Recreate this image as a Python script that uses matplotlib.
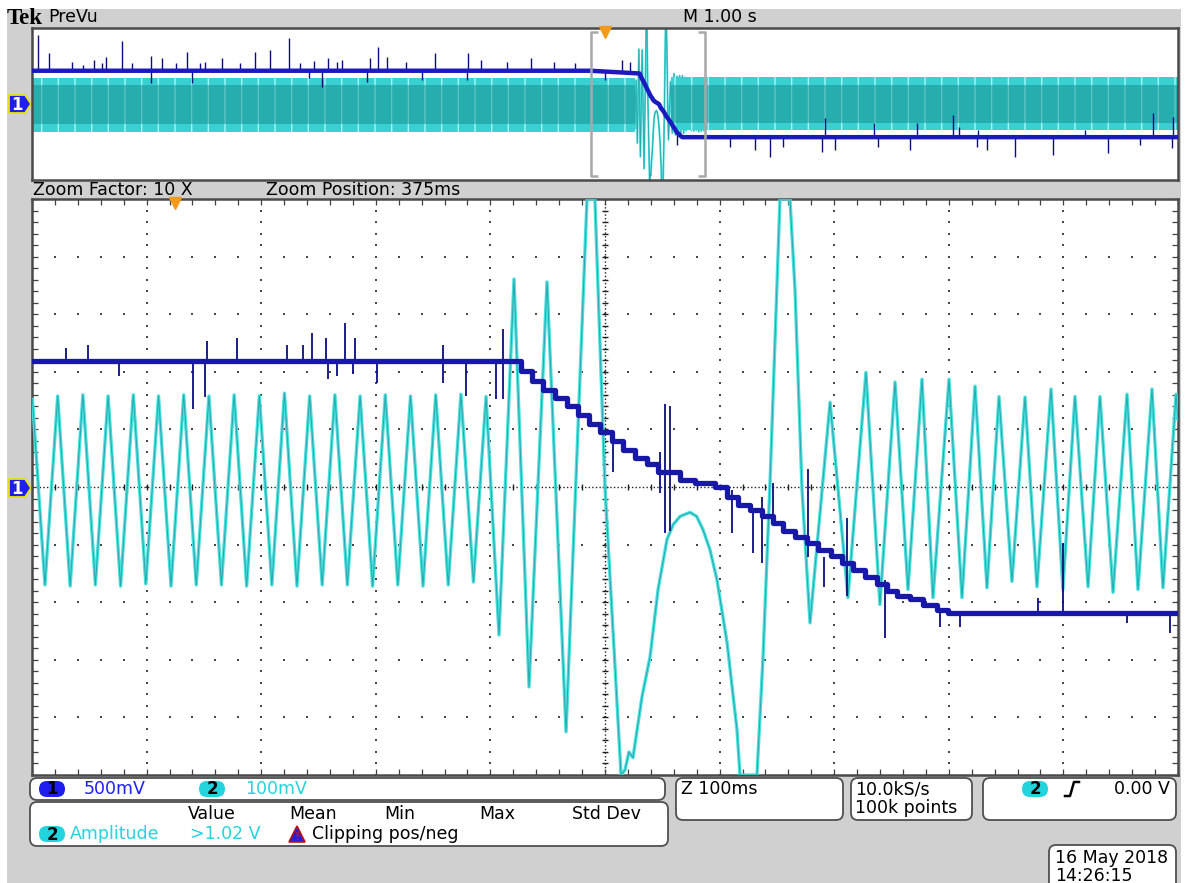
import numpy as np
import matplotlib
matplotlib.use("Agg")
import matplotlib.pyplot as plt
from matplotlib.patches import FancyBboxPatch, Polygon, Rectangle

plt.rcParams['font.family'] = ['DejaVu Sans']

W, H = 1186, 883

# ---------------- acquisition settings ----------------
CH1_SCALE = 0.5          # V/div
CH2_SCALE = 0.1          # V/div
ZOOM_START_S = 4.875     # start of the 1 s zoom window inside the 10 s record
RECORD_S = 10.0
ZOOM_MS = 1000.0

# ---------------- channel 1 (zoom window, ms / V), step levels ----------------
ch1_t = [0.0, 426.5, 436.3, 445.9, 456.4, 466.9, 476.4, 486.0, 495.6, 506.1, 515.7,
         526.2, 536.6, 546.3, 565.4, 578.5, 596.0, 606.5, 616.1, 626.5, 637.0,
         646.6, 655.4, 665.8, 676.3, 685.9, 697.3, 706.9, 716.4, 726.9, 737.4,
         746.1, 754.8, 766.2, 777.5, 789.7, 799.3, 1000.0]
ch1_v = [1.094, 1.004, 0.917, 0.839, 0.770, 0.700, 0.622, 0.543, 0.474, 0.396, 0.317,
         0.248, 0.196, 0.126, 0.065, 0.039, -0.004, -0.083, -0.152, -0.196, -0.248,
         -0.309, -0.378, -0.430, -0.483, -0.543, -0.596, -0.657, -0.717, -0.778, -0.839,
         -0.900, -0.943, -0.970, -1.022, -1.065, -1.091, -1.091]

# channel 1 glitches in the zoom window (ms, low V, high V)
spk_t = [29.7, 48.9, 75.9, 140.5, 151.0, 152.7, 178.9, 222.5, 236.5, 244.3, 256.5,
         258.3, 266.1, 273.1, 280.1, 281.8, 301.0, 358.6, 378.7, 404.9, 410.8,
         507.0, 548.0, 552.4, 556.7, 610.8, 629.1, 637.0, 646.6, 677.2, 691.1,
         711.2, 744.3, 792.3, 809.8, 877.8, 899.7, 955.5, 993.0]
spk_lo = [1.094, 1.094, 0.961, 0.674, 0.778, 1.094, 1.094, 1.094, 1.094, 1.094, 1.094,
          0.935, 0.961, 1.094, 0.978, 1.094, 0.900, 0.900, 0.790, 0.761, 0.761,
          0.126, -0.048, -0.396, -0.380, -0.396, -0.570, -0.657, -0.309, -0.604, -0.865,
          -0.950, -1.309, -1.213, -1.213, -1.091, -1.091, -1.183, -1.265]
spk_hi = [1.204, 1.230, 1.094, 1.094, 1.094, 1.265, 1.291, 1.230, 1.230, 1.335, 1.291,
          1.094, 1.094, 1.422, 1.094, 1.291, 1.094, 1.230, 1.094, 1.094, 1.370,
          0.387, 0.300, 0.717, 0.700, -0.022, -0.196, -0.083, 0.039, 0.152, -0.604,
          -0.265, -0.804, -1.091, -1.091, -0.960, -0.483, -1.091, -1.091]

# ---------------- channel 2 (zoom window, ms / V), turning points ----------------
ch2_t = [0.4, 11.3, 22.4, 33.3, 44.4, 55.3, 66.4, 77.3, 88.4, 99.3, 110.4, 121.3,
         132.4, 143.3, 154.4, 165.3, 176.4, 187.3, 198.4, 209.3, 220.3, 231.2, 242.3,
         253.2, 264.3, 275.2, 286.3, 297.2, 308.3, 319.2, 330.3, 341.2, 352.3, 363.2,
         374.3, 385.2, 396.2,
         407.5, 420.6, 433.7, 449.4, 466.0, 484.3, 491.2, 500.0, 514.0, 517.5, 520.9,
         524.4, 532.3, 539.3, 546.3, 554.1, 559.6, 565.5, 574.2, 580.0, 585.5, 591.6,
         597.7, 606.5, 615.2, 617.8, 632.6, 637.9, 644.0, 652.7, 661.4, 665.8, 671.9,
         678.9,
         696.4, 712.0, 727.7, 739.9, 753.1, 764.4, 776.6, 786.2, 800.2, 811.5, 822.9,
         833.3, 843.8, 855.1, 866.5, 876.9, 889.2, 899.6, 910.1, 921.5, 931.9, 943.3,
         955.5, 965.1, 977.3, 986.9, 998.3, 1000.0]
ch2_v = [0.152, -0.170, 0.158, -0.172, 0.160, -0.170, 0.158, -0.172, 0.160, -0.168, 0.158,
         -0.172, 0.160, -0.170, 0.158, -0.170, 0.160, -0.172, 0.158, -0.170, 0.163, -0.172,
         0.158, -0.170, 0.160, -0.170, 0.158, -0.172, 0.160, -0.170, 0.158, -0.172, 0.160,
         -0.170, 0.161, -0.165, 0.157,
         -0.257, 0.361, -0.347, 0.356, -0.425, 0.500, 0.500, 0.000, -0.500, -0.491, -0.460,
         -0.470, -0.364, -0.295, -0.178, -0.091, -0.065, -0.051, -0.044, -0.051, -0.074,
         -0.109, -0.161, -0.270, -0.422, -0.500, -0.500, -0.295, 0.008, 0.500, 0.500, 0.343,
         -0.004, -0.236,
         0.147, -0.192, 0.199, -0.204, 0.182, -0.178, 0.187, -0.192, 0.187, -0.192, 0.175,
         -0.175, 0.157, -0.164, 0.156, -0.173, 0.170, -0.178, 0.157, -0.173, 0.157, -0.183,
         0.161, -0.178, 0.170, -0.175, 0.161, 0.117]

# ---------------- record overview (s / V) ----------------
ch1_pre_v = 1.094
ch1_post_v = -1.091
top_spk_t = [0.050, 0.151, 0.346, 0.448, 0.544, 0.608, 0.646, 0.782, 0.870, 1.036, 1.137,
             1.254, 1.355, 1.466, 1.510, 1.655, 1.815, 1.946, 2.077, 2.243, 2.339, 2.461,
             2.586, 2.659, 2.702, 2.949, 3.022, 3.095, 3.261, 3.517, 3.805, 3.918, 4.145,
             4.354, 4.555, 4.738, 5.146, 5.218,
             1.038, 1.393, 2.420, 2.528, 2.921, 3.400, 3.793, 5.000,
             5.626, 6.091, 6.309, 6.440, 6.556, 6.891, 7.007, 7.385, 7.661, 8.243, 8.330,
             8.578, 8.912, 9.392, 9.668, 9.945,
             6.920, 7.347, 7.720, 8.039, 8.089, 8.257, 9.188, 9.779, 9.960]
top_spk_tip = [2.27, 1.68, 1.38, 1.28, 1.45, 1.35, 1.55, 2.07, 1.35, 1.58, 1.51,
               1.35, 1.71, 1.35, 1.38, 1.51, 1.35, 1.71, 1.78, 2.17, 1.35, 1.41,
               1.51, 1.38, 1.45, 1.51, 1.87, 1.55, 1.38, 1.68, 1.68, 1.45, 1.38,
               1.51, 1.38, 1.35, 1.45, 1.38,
               0.69, 0.69, 0.86, 0.56, 0.72, 0.79, 0.79, 0.79,
               -1.35, -1.41, -1.51, -1.74, -1.41, -1.58, -1.51, -1.41, -1.51, -1.41, -1.51,
               -1.74, -1.68, -1.61, -1.35, -1.45,
               -0.46, -0.62, -0.62, -0.36, -0.76, -0.86, -0.86, -0.30, -0.43]
# channel 2 envelope outside the zoomed transient
env_pre_t = [0.0, 5.262]
env_pre_hi = [0.171, 0.171]
env_pre_lo = [-0.184, -0.184]
env_post_t = [5.572, 10.0]
env_post_hi = [0.178, 0.178]
env_post_lo = [-0.171, -0.171]

# ---------------- colours ----------------
BG = '#d0d0d0'
CH1_COL = '#1717a8'
CH1_SPK = '#0c0c80'
CH2_COL = '#48e0e0'
CH2_DARK = '#2aa8a8'
FRAME = '#4a4a4a'
TXT_BLUE = '#1e1eff'
TXT_CYAN = '#22d4de'

fig = plt.figure(figsize=(W / 100, H / 100), dpi=100)
fig.patch.set_facecolor('white')

# pixel-space layer for the instrument chrome
ui = fig.add_axes([0, 0, 1, 1], zorder=0)
ui.set_xlim(0, W)
ui.set_ylim(H, 0)
ui.axis('off')
ui.add_patch(Rectangle((7, 9), 1174, 880, facecolor=BG, edgecolor='none'))


def px_axes(x0, y0, x1, y1):
    return fig.add_axes([x0 / W, 1 - y1 / H, (x1 - x0) / W, (y1 - y0) / H], zorder=2)


def style_frame(ax):
    ax.set_facecolor('white')
    for s in ax.spines.values():
        s.set_color(FRAME)
        s.set_linewidth(1.8)


# ================= overview (PreVu) =================
ax_top = px_axes(32, 28, 1178, 180)
style_frame(ax_top)
ax_top.set_xlim(0, RECORD_S)
ax_top.set_ylim(-5, 5)
ax_top.set_xticks([])
ax_top.set_yticks([])

for et, eh, el in ((env_pre_t, env_pre_hi, env_pre_lo), (env_post_t, env_post_hi, env_post_lo)):
    hi = np.array(eh) / CH2_SCALE
    lo = np.array(el) / CH2_SCALE
    ax_top.fill_between(et, lo, hi, facecolor='#38d0d0', edgecolor='#a4f7f7',
                        hatch='|', linewidth=0, zorder=2)
    ax_top.fill_between(et, lo * 0.72, hi * 0.72, facecolor='#168c8c', alpha=0.5,
                        linewidth=0, zorder=2)

zoom_t_s = ZOOM_START_S + np.array(ch2_t) / 1000.0
ax_top.plot(zoom_t_s, np.array(ch2_v) / CH2_SCALE, color=CH2_COL, lw=1.4, zorder=1.8)
ax_top.plot(zoom_t_s, np.array(ch2_v) / CH2_SCALE, color=CH2_DARK, lw=0.6, zorder=1.8)

top_t1 = np.concatenate([[0.0], ZOOM_START_S + np.array(ch1_t) / 1000.0, [RECORD_S]])
top_v1 = np.concatenate([[ch1_pre_v], ch1_v, [ch1_post_v]])
base = np.interp(top_spk_t, top_t1, top_v1)
ax_top.vlines(top_spk_t, np.minimum(base, top_spk_tip) / CH1_SCALE,
              np.maximum(base, top_spk_tip) / CH1_SCALE, color=CH1_SPK, lw=1.0, zorder=4)
ax_top.plot(top_t1, top_v1 / CH1_SCALE, color='#1a1ac0', lw=3.2, zorder=5)

# zoom window brackets
zs, ze = ZOOM_START_S, ZOOM_START_S + ZOOM_MS / 1000.0
br = dict(color='#a8a8a8', lw=1.8, zorder=6, solid_capstyle='butt')
ax_top.plot([zs + 0.06, zs, zs, zs + 0.06], [4.75, 4.75, -4.75, -4.75], **br)
ax_top.plot([ze - 0.06, ze, ze, ze - 0.06], [4.75, 4.75, -4.75, -4.75], **br)
# trigger marker
ax_top.plot([5.0], [4.75], marker='v', color='#f39a1a', markersize=8, zorder=7,
            clip_on=False)

# ================= zoom window =================
ax = px_axes(32, 199, 1178, 775)
style_frame(ax)
ax.set_xlim(0, ZOOM_MS)
ax.set_ylim(-5, 5)

# graticule
minor_x = np.arange(0, ZOOM_MS + 0.1, ZOOM_MS / 50)
minor_y = np.arange(-5, 5.01, 0.2)
for xv in np.arange(100, 1000, 100):
    if xv == 500:
        continue
    ax.scatter(np.full_like(minor_y, xv), minor_y, s=2.0, marker='s', color='#484848',
               linewidths=0, zorder=1)
for yv in range(-4, 5):
    if yv == 0:
        continue
    ax.scatter(minor_x, np.full_like(minor_x, yv), s=2.0, marker='s', color='#484848',
               linewidths=0, zorder=1)
ax.axhline(0, color='#202020', lw=1.0, ls=(0, (1, 1.6)), zorder=1)
ax.axvline(500, color='#202020', lw=1.0, ls=(0, (1, 1.6)), zorder=1)
ax.vlines(minor_x, -0.06, 0.06, color='#202020', lw=1.0, zorder=1)
ax.hlines(minor_y, 500 - 2.8, 500 + 2.8, color='#202020', lw=1.0, zorder=1)
ax.set_xticks(minor_x)
ax.set_yticks(minor_y)
ax.tick_params(direction='in', length=4, width=0.9, color='#404040', top=True, right=True,
               labelbottom=False, labelleft=False)

# channel 2
ax.plot(ch2_t, np.array(ch2_v) / CH2_SCALE, color=CH2_COL, lw=2.4, zorder=3,
        solid_joinstyle='round')
ax.plot(ch2_t, np.array(ch2_v) / CH2_SCALE, color=CH2_DARK, lw=0.7, zorder=3,
        solid_joinstyle='round')
# channel 1
ax.vlines(spk_t, np.array(spk_lo) / CH1_SCALE, np.array(spk_hi) / CH1_SCALE,
          color=CH1_SPK, lw=1.3, zorder=4)
ax.plot(ch1_t, np.array(ch1_v) / CH1_SCALE, color=CH1_COL, lw=3.8, drawstyle='steps-post',
        zorder=5)
# trigger point marker
ax.plot([125.0], [4.93], marker='v', color='#f39a1a', markersize=8, zorder=7, clip_on=False)

# ================= chrome: channel markers =================
for yc in (104, 488):
    ui.add_patch(Polygon([(9, yc - 9), (25, yc - 9), (31, yc), (25, yc + 9), (9, yc + 9)],
                         closed=True, facecolor='#1e1ef0', edgecolor='#e6e600', lw=1.3,
                         zorder=3))
    ui.text(17, yc + 0.5, '1', color='white', fontsize=12, fontweight='bold',
            ha='center', va='center', zorder=4)

FS = 12.5
ui.text(7, 18, 'Tek', family='Liberation Serif', fontweight='bold', fontsize=16.5,
        va='center', ha='left')
ui.text(48, 17, 'PreVu', fontsize=FS, va='center')
ui.text(683, 17, 'M 1.00 s', fontsize=FS, va='center')
ui.text(33, 190, 'Zoom Factor: 10 X', fontsize=FS, va='center')
ui.text(266, 190, 'Zoom Position: 375ms', fontsize=FS, va='center')


def box(x0, y0, x1, y1, r=7):
    ui.add_patch(FancyBboxPatch((x0, y0), x1 - x0, y1 - y0,
                                boxstyle=f'round,pad=0,rounding_size={r}',
                                facecolor='white', edgecolor='#505050', lw=1.3, zorder=2))


def pill(xc, yc, col, label):
    ui.add_patch(FancyBboxPatch((xc - 13, yc - 8), 26, 16,
                                boxstyle='round,pad=0,rounding_size=8',
                                facecolor=col, edgecolor='none', zorder=3))
    ui.text(xc, yc + 0.5, label, fontsize=12, fontweight='bold', color='black',
            ha='center', va='center', zorder=4)


# scale readout
box(30, 778, 665, 800)
pill(52, 789, '#1e1ef0', '1')
ui.text(84, 789, '500mV', color=TXT_BLUE, fontsize=FS, va='center', zorder=4)
pill(212, 789, TXT_CYAN, '2')
ui.text(245, 789, '100mV', color=TXT_CYAN, fontsize=FS, va='center', zorder=4)

# measurement table
box(30, 802, 668, 846)
for lab, xl in (('Value', 188), ('Mean', 289), ('Min', 384), ('Max', 479), ('Std Dev', 572)):
    ui.text(xl, 814, lab, fontsize=FS, va='center', zorder=4)
pill(52, 834, TXT_CYAN, '2')
ui.text(70, 834, 'Amplitude', color=TXT_CYAN, fontsize=FS, va='center', zorder=4)
ui.text(190, 834, '>1.02 V', color=TXT_CYAN, fontsize=FS, va='center', zorder=4)
ui.add_patch(Polygon([(289, 842), (305, 842), (297, 826)], closed=True,
                     facecolor='#2020e0', edgecolor='#c01010', lw=1.2, zorder=4))
ui.text(297, 837, '!', color='#d01010', fontsize=8, fontweight='bold',
        ha='center', va='center', zorder=5)
ui.text(312, 834, 'Clipping pos/neg', fontsize=FS, va='center', zorder=4)

# horizontal readouts
box(676, 778, 843, 820)
ui.text(681, 789, 'Z 100ms', fontsize=FS, va='center', zorder=4)
box(851, 778, 972, 820)
ui.text(855, 789, '10.0kS/s', fontsize=FS, va='center', zorder=4)
ui.text(855, 808, '100k points', fontsize=FS, va='center', zorder=4)

# trigger readout
box(983, 778, 1176, 820)
pill(1035, 789, TXT_CYAN, '2')
ui.plot([1065, 1070, 1074, 1079], [796, 796, 782, 782], color='black', lw=1.8, zorder=4)
ui.text(1170, 789, '0.00 V', fontsize=FS, va='center', ha='right', zorder=4)

# date / time
box(1049, 845, 1176, 895)
ui.text(1055, 858, '16 May 2018', fontsize=FS, va='center', zorder=4)
ui.text(1055, 876, '14:26:15', fontsize=FS, va='center', zorder=4)

fig.savefig('out.png', dpi=100, facecolor=fig.get_facecolor())
